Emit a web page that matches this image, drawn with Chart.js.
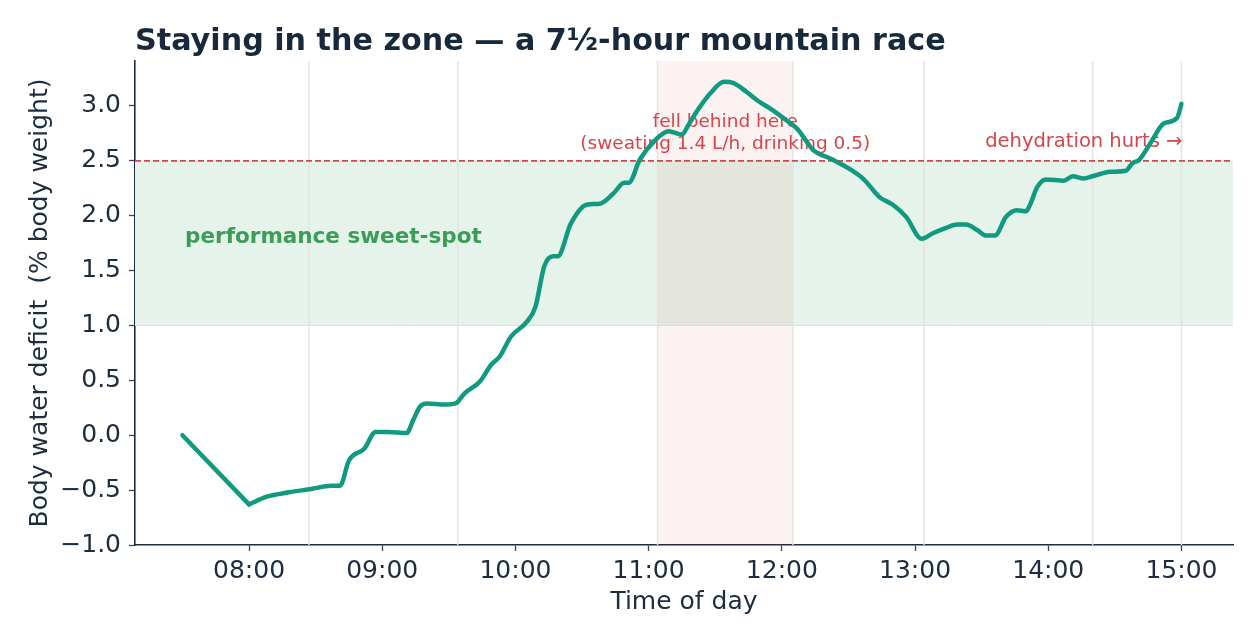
<!DOCTYPE html>
<html>
<head>
<meta charset="utf-8">
<title>Staying in the zone</title>
<script src="https://cdn.jsdelivr.net/npm/chart.js@4.4.1/dist/chart.umd.min.js"></script>
<style>
  html, body { margin: 0; padding: 0; background: #fff; overflow: hidden; }
  canvas { display: block; }
</style>
</head>
<body>
<canvas id="race-chart" width="1260" height="644"></canvas>
<script>
// readings (time of day, % body weight lost)
const times = [
  '07:30', '08:00', '08:08', '08:18', '08:28', '08:37', '08:41', '08:45', '08:52', '08:57',
  '09:03', '09:11', '09:14', '09:17', '09:20', '09:28', '09:33', '09:37', '09:44', '09:49',
  '09:53', '09:58', '10:05', '10:09', '10:13', '10:17', '10:19', '10:25', '10:32', '10:38',
  '10:44', '10:49', '10:51', '10:56', '11:03', '11:09', '11:15', '11:18', '11:22', '11:28',
  '11:34', '11:38', '11:44', '11:49', '11:56', '12:02', '12:07', '12:11', '12:14', '12:22',
  '12:31', '12:37', '12:44', '12:50', '12:56', '13:03', '13:08', '13:14', '13:19', '13:23',
  '13:28', '13:32', '13:36', '13:41', '13:46', '13:50', '13:52', '13:55', '13:59', '14:07',
  '14:11', '14:16', '14:20', '14:28', '14:35', '14:38', '14:41', '14:46', '14:52', '14:58',
  '15:00'
];
const deficit = [
  0.00, -0.63, -0.56, -0.52, -0.49, -0.46, -0.46, -0.23, -0.12, 0.03,
  0.03, 0.02, 0.14, 0.26, 0.29, 0.28, 0.29, 0.38, 0.49, 0.64,
  0.72, 0.90, 1.03, 1.17, 1.54, 1.63, 1.63, 1.93, 2.10, 2.11,
  2.20, 2.30, 2.30, 2.51, 2.69, 2.77, 2.74, 2.83, 2.96, 3.12,
  3.22, 3.21, 3.13, 3.05, 2.96, 2.87, 2.79, 2.68, 2.60, 2.52,
  2.42, 2.33, 2.17, 2.10, 1.99, 1.79, 1.84, 1.89, 1.92, 1.92,
  1.87, 1.82, 1.82, 1.99, 2.05, 2.04, 2.11, 2.26, 2.33, 2.32,
  2.36, 2.34, 2.36, 2.40, 2.41, 2.48, 2.51, 2.66, 2.84, 2.89,
  3.02
];

const hourTicks = ['08:00', '09:00', '10:00', '11:00', '12:00', '13:00', '14:00', '15:00'];
const deficitTicks = [-1.0, -0.5, 0.0, 0.5, 1.0, 1.5, 2.0, 2.5, 3.0];
const stationTimes = ['08:27', '09:34', '11:04', '12:05', '13:04', '14:20', '15:00'];
const behindSpan = ['11:04', '12:05'];
const sweetSpot = [1.0, 2.5];

const toHours = s => {
  const [h, m] = s.split(':').map(Number);
  return h + m / 60;
};
const fmtHour = v => {
  const h = Math.floor(v + 1e-6), m = Math.round((v - h) * 60);
  return String(h).padStart(2, '0') + ':' + String(m).padStart(2, '0');
};

const FONT = '"DejaVu Sans", "Noto Sans", sans-serif';
const INK = '#1d2d3e';
const RED = '#d6454b';
const TEAL = '#129a80';

Chart.defaults.font.family = FONT;

const points = times.map((t, i) => ({ x: toHours(t), y: deficit[i] }));

// bands, station lines, threshold and notes under the trace
const backdrop = {
  id: 'backdrop',
  beforeDatasetsDraw(chart) {
    const { ctx, chartArea: a, scales: { x, y } } = chart;
    ctx.save();
    ctx.beginPath();
    ctx.rect(a.left, a.top, a.right - a.left, a.bottom - a.top);
    ctx.clip();

    const yHi = y.getPixelForValue(sweetSpot[1]);
    const yLo = y.getPixelForValue(sweetSpot[0]);
    ctx.fillStyle = '#e5f3ea';
    ctx.fillRect(a.left, yHi, a.right - a.left, yLo - yHi);
    ctx.strokeStyle = '#d6eadd';
    ctx.lineWidth = 1;
    ctx.beginPath();
    ctx.moveTo(a.left, yLo);
    ctx.lineTo(a.right, yLo);
    ctx.stroke();

    const x0 = x.getPixelForValue(toHours(behindSpan[0]));
    const x1 = x.getPixelForValue(toHours(behindSpan[1]));
    ctx.fillStyle = 'rgba(214, 39, 40, 0.06)';
    ctx.fillRect(x0, a.top, x1 - x0, a.bottom - a.top);

    ctx.strokeStyle = '#e3e3e3';
    ctx.lineWidth = 1.5;
    stationTimes.forEach(t => {
      const px = x.getPixelForValue(toHours(t));
      ctx.beginPath();
      ctx.moveTo(px, a.top);
      ctx.lineTo(px, a.bottom);
      ctx.stroke();
    });

    ctx.strokeStyle = '#d2484c';
    ctx.lineWidth = 1.6;
    ctx.setLineDash([6, 3]);
    ctx.beginPath();
    ctx.moveTo(a.left, yHi);
    ctx.lineTo(a.right, yHi);
    ctx.stroke();
    ctx.setLineDash([]);

    // notes
    ctx.fillStyle = '#3a9d58';
    ctx.font = 'bold 21.5px ' + FONT;
    ctx.textAlign = 'left';
    ctx.textBaseline = 'alphabetic';
    ctx.fillText('performance sweet-spot', x.getPixelForValue(7.52), y.getPixelForValue(1.752));

    ctx.fillStyle = RED;
    ctx.font = '18.5px ' + FONT;
    ctx.textAlign = 'center';
    const mid = (x0 + x1) / 2;
    ctx.fillText('fell behind here', mid, yHi - 33.5);
    ctx.fillText('(sweating 1.4 L/h, drinking 0.5)', mid, yHi - 12);

    ctx.font = '19.5px ' + FONT;
    ctx.textAlign = 'right';
    ctx.fillText('dehydration hurts \u2192', x.getPixelForValue(toHours('15:00')) + 1, yHi - 14);
    ctx.restore();
  },
  afterDraw(chart) {
    const { ctx, chartArea: a } = chart;
    ctx.save();
    ctx.fillStyle = '#17293a';
    ctx.font = 'bold 30.2px ' + FONT;
    ctx.textAlign = 'left';
    ctx.textBaseline = 'alphabetic';
    ctx.fillText('Staying in the zone \u2014 a 7\u00bd-hour mountain race', a.left, 50);
    ctx.restore();
  }
};

const raceCtx = document.getElementById('race-chart').getContext('2d');
new Chart(raceCtx, {
  type: 'line',
  data: {
    datasets: [
      {
        // start to first reading: straight drop
        label: 'start',
        data: points.slice(0, 2),
        borderColor: TEAL,
        borderWidth: 4.5,
        borderCapStyle: 'round',
        pointRadius: 0,
        tension: 0,
        fill: false
      },
      {
        label: 'Body water deficit',
        data: points.slice(1),
        borderColor: TEAL,
        borderWidth: 4.5,
        borderCapStyle: 'round',
        borderJoinStyle: 'round',
        pointRadius: 0,
        cubicInterpolationMode: 'monotone',
        fill: false
      }
    ]
  },
  options: {
    responsive: false,
    animation: false,
    layout: { padding: { top: 61, right: 27, bottom: 0, left: 0 } },
    plugins: {
      legend: { display: false },
      tooltip: { enabled: false },
      title: { display: false }
    },
    scales: {
      x: {
        type: 'linear',
        min: 7.144,
        max: 15.387,
        afterBuildTicks: s => { s.ticks = hourTicks.map(t => ({ value: toHours(t) })); },
        afterFit: s => { s.height = 99; },
        grid: { drawOnChartArea: false, drawTicks: true, tickLength: 6, tickColor: '#3a4654', tickWidth: 1.3 },
        border: { display: true, color: INK, width: 1.6 },
        ticks: { color: INK, font: { size: 25 }, padding: 5, maxRotation: 0, autoSkip: false, callback: v => fmtHour(v) },
        title: { display: true, text: 'Time of day', color: INK, font: { size: 25 }, padding: { top: 0, bottom: 27 } }
      },
      y: {
        min: -1.0,
        max: 3.41,
        afterBuildTicks: s => { s.ticks = deficitTicks.map(v => ({ value: v })); },
        afterFit: s => { s.width = 135; },
        grid: { drawOnChartArea: false, drawTicks: true, tickLength: 6, tickColor: '#3a4654', tickWidth: 1.3 },
        border: { display: true, color: INK, width: 1.6 },
        ticks: { color: INK, font: { size: 25 }, padding: 8, callback: v => v.toFixed(1).replace('-', '\u2212') },
        title: { display: true, text: 'Body water deficit  (% body weight)', color: INK, font: { size: 25 }, padding: { top: 25, bottom: 0 } }
      }
    }
  },
  plugins: [backdrop]
});
</script>
</body>
</html>
